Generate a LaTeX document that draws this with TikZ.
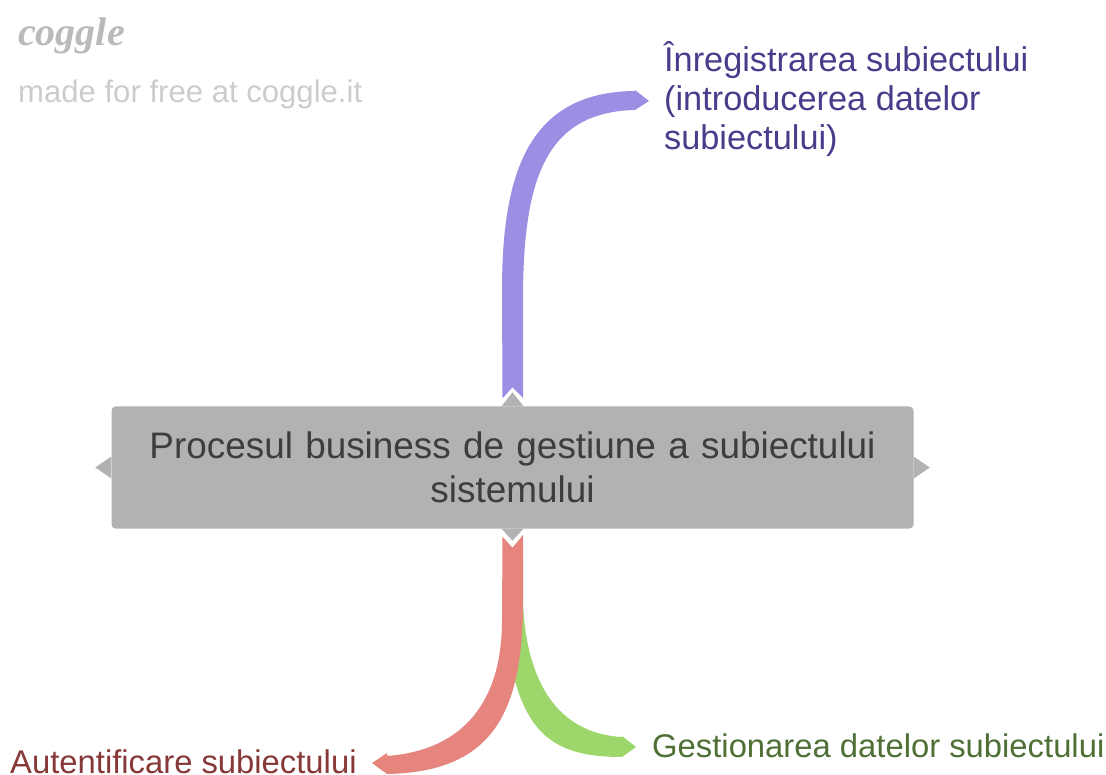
\documentclass[tikz,border=0pt]{standalone}
\usepackage{fontspec}
\setmainfont{Liberation Sans}
\newfontfamily\logofont{Liberation Serif}
\usetikzlibrary{positioning}
\definecolor{boxgray}{HTML}{B2B2B2}
\definecolor{boxtext}{HTML}{3D3D3D}
\definecolor{ribbonpurple}{HTML}{9B8FE3}
\definecolor{ribbonred}{HTML}{E6857D}
\definecolor{ribbongreen}{HTML}{9DD66B}
\definecolor{textpurple}{HTML}{483D8B}
\definecolor{textred}{HTML}{873838}
\definecolor{textgreen}{HTML}{4F6F35}
\tikzset{
	central/.style={fill=boxgray,text=boxtext,rounded corners=4pt,minimum width=802pt,minimum height=122pt,inner sep=0pt,align=center,text width=790pt,font=\fontsize{36.9}{44}\selectfont},
	leaf/.style={inner sep=0pt,anchor=base west,font=\fontsize{32.8}{39}\selectfont},
	boxtip/.style={fill=boxgray}
}
\begin{document}
\begin{tikzpicture}[x=1pt,y=-1pt]
	\useasboundingbox (0,0) rectangle (1106,775);
	\node[central] (root) at (512.5,467.5) {Procesul business de gestiune a subiectului\\sistemului};
	\node[leaf,anchor=north west,align=left,text=textpurple,font=\fontsize{34.3}{39}\selectfont] (inreg) at (664,41) {Înregistrarea subiectului\\(introducerea datelor\\subiectului)};
	\node[leaf,text=textred] (auth) at (10,773) {Autentificare subiectului};
	\node[leaf,text=textgreen] (gest) at (652,757) {Gestionarea datelor subiectului};
	\node[leaf,text=black!20,font=\fontsize{31.1}{39}\selectfont] (madefor) at (18,103) {made for free at coggle.it};
	\node[leaf,text=black!27,font=\logofont\itshape\bfseries\fontsize{40}{40}\selectfont] (logo) at (18,46) {coggle};
	\coordinate (purpletip) at (649,101);
	\coordinate (redtip) at (372,763);
	\coordinate (greentip) at (636,747);
	% ribbons
	\fill[ribbonpurple] (root.north) ++(0,-19) -- ++(-10,11) -- (502,290) .. controls (502,170) and (530,92) .. (635,91) -- (635,90) -- (purpletip) -- (635,110) .. controls (545,112) and (523,180) .. (523,300) -- (523,398) -- cycle;
	\fill[ribbongreen] (512,560) -- (523,560) -- (523,600) .. controls (525,670) and (550,733) .. (622,737) -- (622,736) -- (greentip) -- (622,757) .. controls (555,757) and (525,735) .. (510,660) -- cycle;
	\fill[ribbonred] (root.south) ++(0,19) -- ++(-10,-11) -- (502,620) .. controls (502,700) and (465,750) .. (387,756) -- (387,753) -- (redtip) -- (387,774) .. controls (495,772) and (523,710) .. (523,600) -- (523,535) -- cycle;
	% tips of the box
	\path[boxtip] (root.north) ++(-11,0) -- ++(11,-14) -- ++(11,14);
	\path[boxtip] (root.south) ++(-11,0) -- ++(11,12) -- ++(11,-12);
	\path[boxtip] (root.west) ++(0,-11) -- ++(-16,11) -- ++(16,11);
	\path[boxtip] (root.east) ++(0,-11) -- ++(16,11) -- ++(-16,11);
\end{tikzpicture}
\end{document}
